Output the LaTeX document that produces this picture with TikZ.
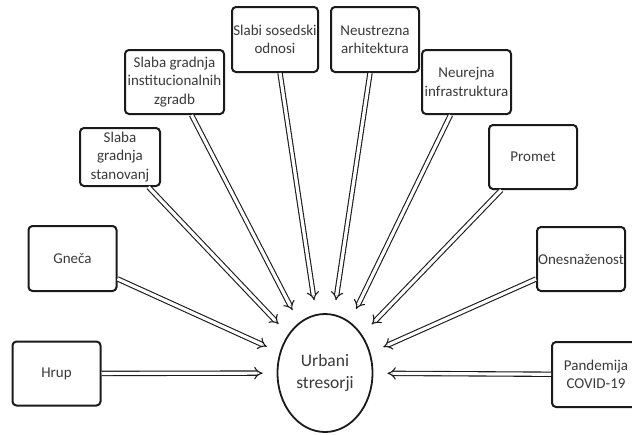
\documentclass[tikz,border=0pt]{standalone}
\usepackage{fontspec}
\setmainfont{Carlito}
\usetikzlibrary{arrows.meta,shapes.geometric}
\definecolor{BoxLine}{HTML}{1A1A1A}
\definecolor{LabelGray}{HTML}{3A3A3A}

\begin{document}
\begin{tikzpicture}[x=1pt,y=-1pt,
  stressor/.style={draw=BoxLine,line width=2pt,rounded corners=4pt,fill=white,
    minimum width=88pt,minimum height=64pt,inner sep=1pt,align=center,
    text=LabelGray,font=\fontsize{15}{18.5}\selectfont},
  centre/.style={draw=BoxLine,ellipse,line width=1.8pt,inner sep=0pt,
    minimum width=95pt,minimum height=118pt,align=center,
    text=LabelGray,font=\fontsize{17.5}{22}\selectfont},
  pull/.style={draw=BoxLine,double,double distance=3.2pt,line width=1.1pt,
    -{Implies[length=7pt,width=14pt]},shorten >=14pt}]
  \useasboundingbox (0,0) rectangle (632,434);
  \node[centre] (urb) at (325,373) {Urbani\\stresorji};
  \node[stressor] (hrup) at (56.5,373.5) {Hrup};
  \node[stressor,minimum height=65pt] (gneca) at (72.5,258.5) {Gneča};
  \node[stressor,minimum width=80pt,minimum height=58pt] (stan) at (120,157) {Slaba\\gradnja\\stanovanj};
  \node[stressor,minimum width=99pt] (inst) at (174.5,82) {Slaba gradnja\\institucionalnih\\zgradb};
  \node[stressor,minimum width=86pt,minimum height=65pt] (sosed) at (275,39.5) {Slabi sosedski\\odnosi};
  \node[stressor,minimum height=65pt] (arhi) at (375,39.5) {Neustrezna\\arhitektura};
  \node[stressor,minimum width=89pt] (infra) at (466.5,82) {Neurejna\\infrastruktura};
  \node[stressor] (promet) at (533,157) {Promet};
  \node[stressor] (onesn) at (581,259) {Onesnaženost};
  \node[stressor,minimum height=65pt] (covid) at (596,374.5) {Pandemija\\COVID-19};
  \foreach \src in {hrup,gneca,stan,inst,sosed,arhi,infra,promet,onesn,covid}
    \draw[pull] (\src) -- (urb);
\end{tikzpicture}
\end{document}
